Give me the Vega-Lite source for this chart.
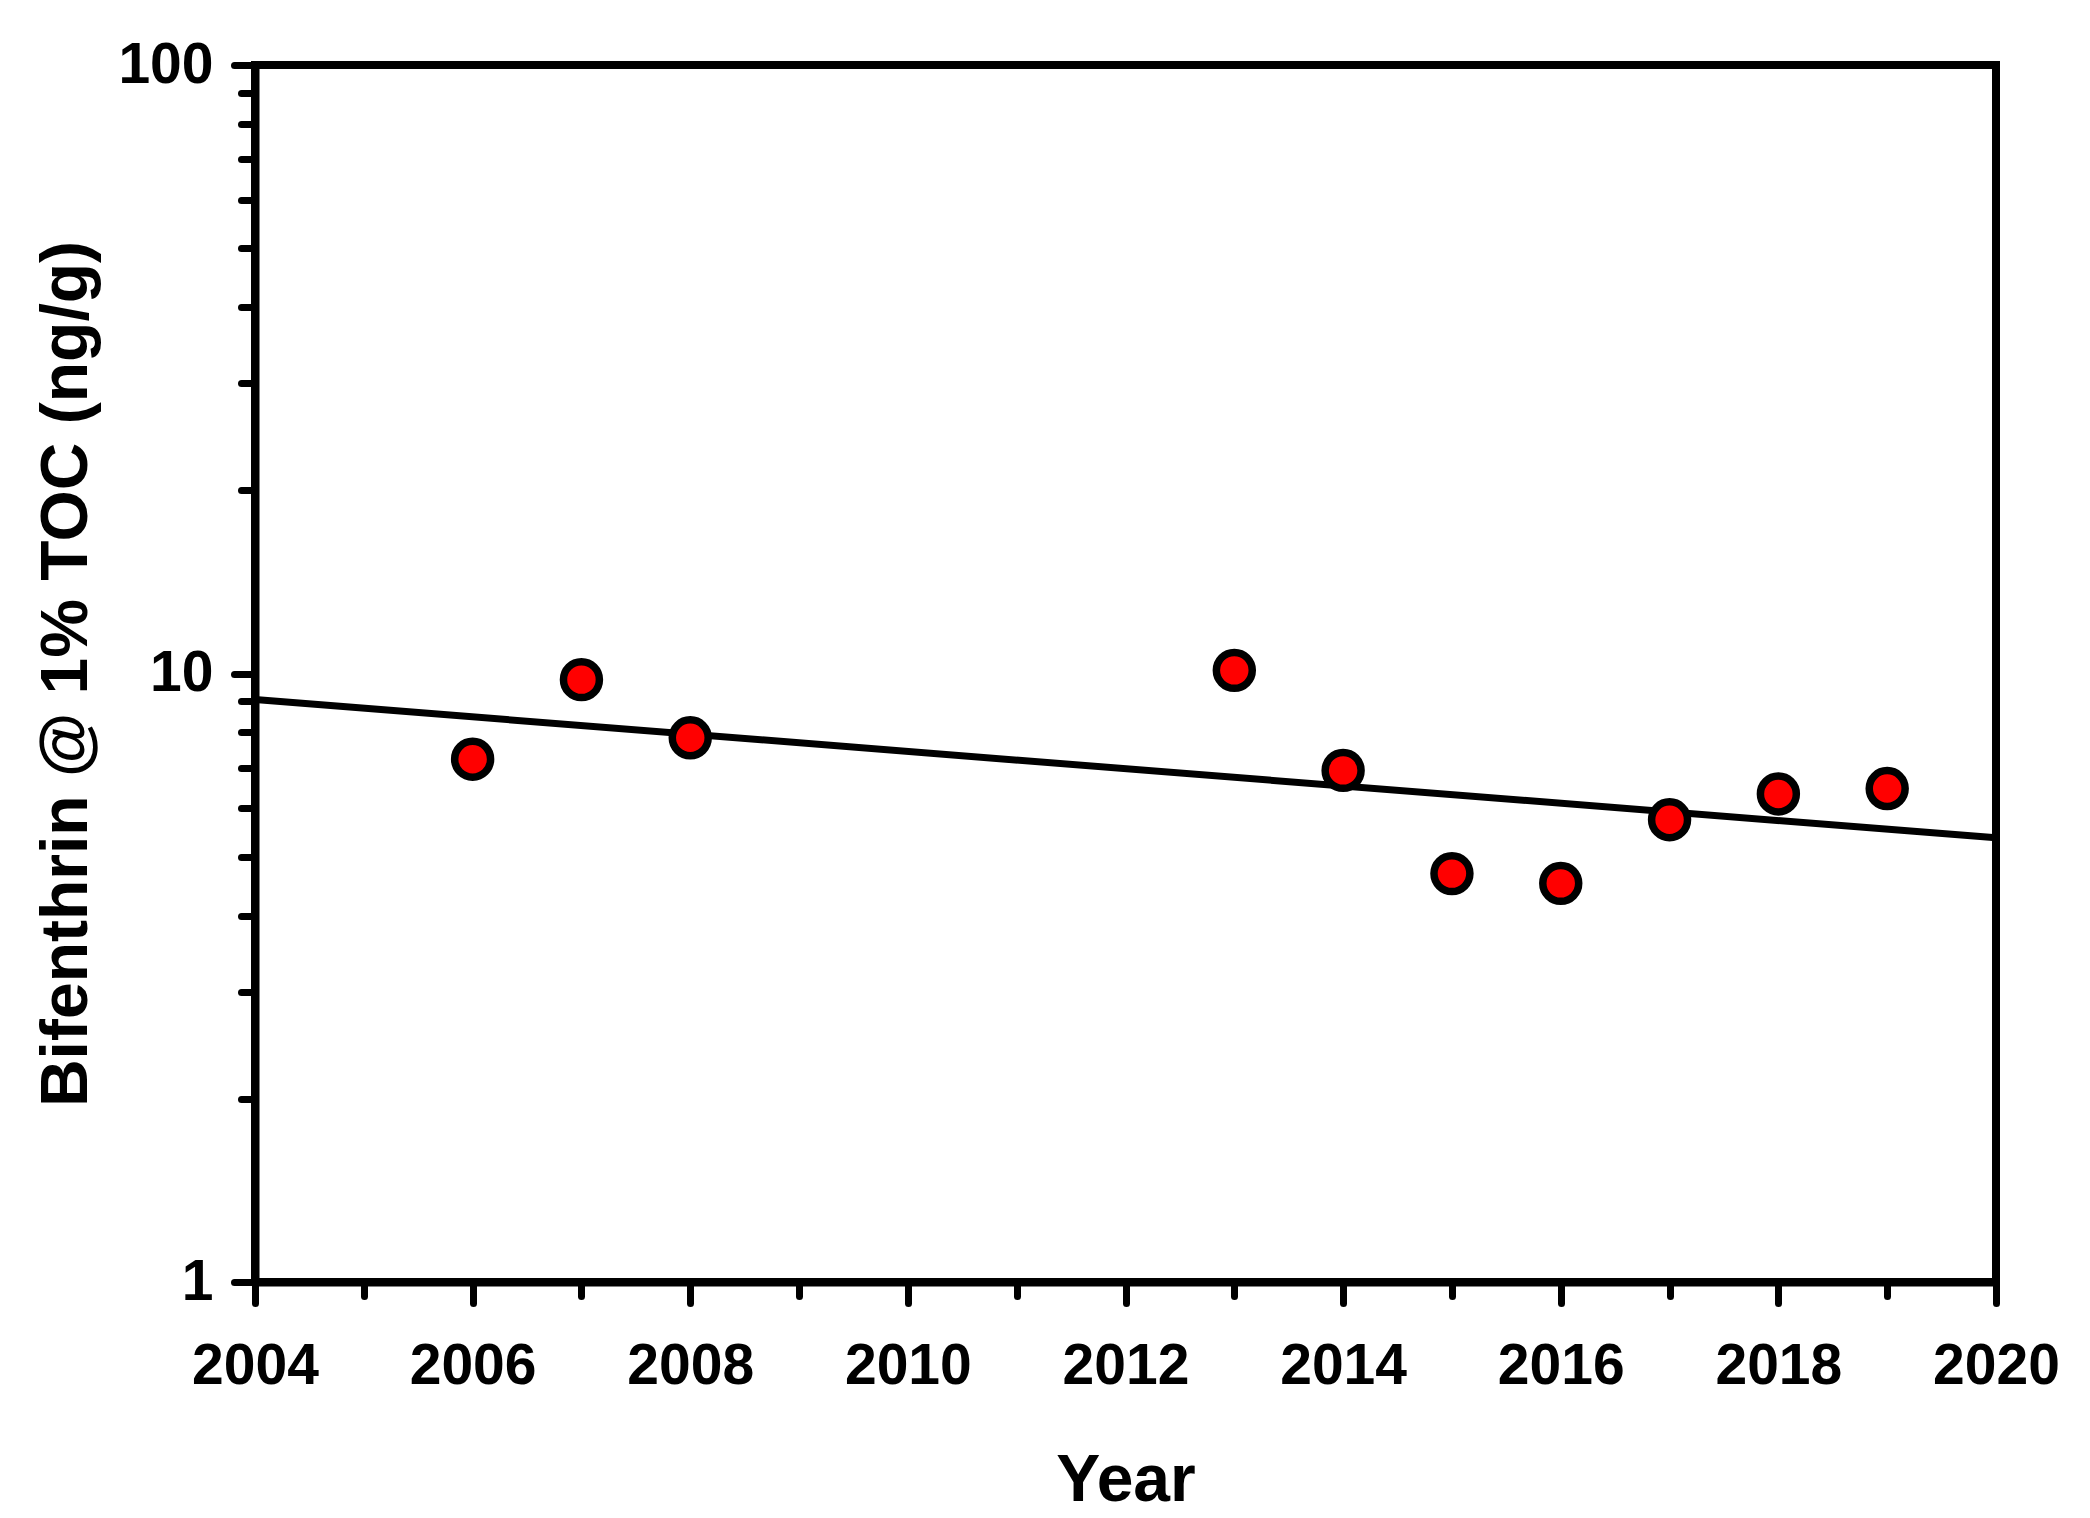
{
  "$schema": "https://vega.github.io/schema/vega-lite/v6.json",
  "width": 1741,
  "height": 1217,
  "autosize": {"type": "none"},
  "padding": {"left": 255, "top": 65, "right": 94, "bottom": 236},
  "background": "white",
  "config": {
    "view": {"stroke": "black", "strokeWidth": 8},
    "axis": {
      "domainColor": "black", "domainWidth": 8,
      "tickColor": "black", "tickWidth": 7, "tickCap": "round",
      "labelFont": "Liberation Sans", "labelFontWeight": "bold", "labelFontSize": 57, "labelColor": "black",
      "titleFont": "Liberation Sans", "titleFontWeight": "bold", "titleFontSize": 66, "titleColor": "black",
      "grid": false, "labelFlush": false, "labelOverlap": false, "labelBound": false
    }
  },
  "encoding": {
    "x": {
      "field": "Year", "type": "quantitative",
      "scale": {"domain": [2004, 2020], "nice": false, "zero": false},
      "axis": {
        "title": "Year",
        "values": [2004,2005,2006,2007,2008,2009,2010,2011,2012,2013,2014,2015,2016,2017,2018,2019,2020],
        "format": "d",
        "labelExpr": "datum.value % 2 == 0 ? datum.label : ''",
        "tickSize": {"condition": {"test": "datum.value % 2 == 0", "value": 21}, "value": 14},
        "labelPadding": 35,
        "titlePadding": 54
      }
    },
    "y": {
      "field": "Value", "type": "quantitative",
      "scale": {"type": "log", "domain": [1, 100], "nice": false},
      "axis": {
        "title": "Bifenthrin @ 1% TOC (ng/g)",
        "values": [1,2,3,4,5,6,7,8,9,10,20,30,40,50,60,70,80,90,100],
        "format": "d",
        "labelExpr": "(datum.value == 1 || datum.value == 10 || datum.value == 100) ? datum.label : ''",
        "tickSize": {"condition": {"test": "datum.value == 1 || datum.value == 10 || datum.value == 100", "value": 21}, "value": 14},
        "labelPadding": 21,
        "titlePadding": 17
      }
    }
  },
  "layer": [
    {
      "data": {"values": [{"Year": 2004, "Value": 9.06}, {"Year": 2020, "Value": 5.37}]},
      "mark": {"type": "line", "color": "black", "strokeWidth": 7}
    },
    {
      "data": {"values": [
        {"Year": 2006, "Value": 7.23},
        {"Year": 2007, "Value": 9.77},
        {"Year": 2008, "Value": 7.84},
        {"Year": 2013, "Value": 10.12},
        {"Year": 2014, "Value": 6.93},
        {"Year": 2015, "Value": 4.69},
        {"Year": 2016, "Value": 4.52},
        {"Year": 2017, "Value": 5.75},
        {"Year": 2018, "Value": 6.34},
        {"Year": 2019, "Value": 6.47}
      ]},
      "mark": {"type": "point", "shape": "circle", "filled": true, "fill": "#ff0000", "stroke": "black", "strokeWidth": 7.5, "size": 1290, "opacity": 1}
    }
  ]
}
